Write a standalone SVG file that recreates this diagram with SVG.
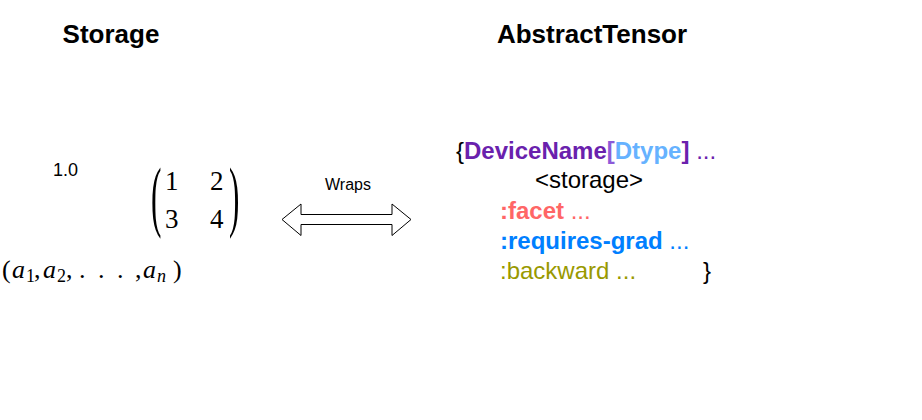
<svg xmlns="http://www.w3.org/2000/svg" width="922" height="420" viewBox="0 0 922 420">
<style>
.title{font-family:"Liberation Sans",Arial,sans-serif;font-weight:bold;font-size:26px;fill:#000}
.sans{font-family:"Liberation Sans",Arial,sans-serif;fill:#000}
.math{font-family:"Liberation Serif","Times New Roman",serif;fill:#000}
.it{font-style:italic}
.b{font-weight:bold}
.code{font-family:"Liberation Sans",Arial,sans-serif;font-size:24px}
</style>
<rect width="922" height="420" fill="#fff"/>
<g id="title-storage"><text class="title" x="111" y="43" text-anchor="middle">Storage</text></g>
<g id="title-abstracttensor"><text class="title" x="592" y="43" text-anchor="middle">AbstractTensor</text></g>
<g id="scalar"><text class="sans" x="53" y="176" font-size="18">1.0</text></g>
<g id="matrix">
<text class="math" font-size="78" transform="translate(151,222) scale(0.4,1)">(</text>
<text class="math" font-size="78" transform="translate(229,222) scale(0.4,1)">)</text>
<text class="math" font-size="27" x="165" y="190">1</text>
<text class="math" font-size="27" x="210" y="190">2</text>
<text class="math" font-size="27" x="165" y="228">3</text>
<text class="math" font-size="27" x="210" y="228">4</text>
</g>
<g id="vector">
<text class="math" font-size="26" y="278"><tspan x="2">(</tspan><tspan class="it" x="12">a</tspan><tspan font-size="18" x="26" y="282">1</tspan><tspan x="34" y="278">,</tspan><tspan class="it" x="43">a</tspan><tspan font-size="18" x="57" y="282">2</tspan><tspan x="66" y="278">,</tspan><tspan x="79">.</tspan><tspan x="98">.</tspan><tspan x="117">.</tspan><tspan x="135">,</tspan><tspan class="it" x="143">a</tspan><tspan class="it" font-size="18" x="157" y="282">n</tspan><tspan x="173" y="278">)</tspan></text>
</g>
<g id="connectors">
<g id="wraps">
<polygon points="282,219.5 301,204 301,214.5 392,214.5 392,204 411,219.5 392,235.5 392,224.5 301,224.5 301,235.5" fill="#fff" stroke="#000" stroke-width="1"/>
<text class="sans" x="348" y="190" font-size="16" text-anchor="middle">Wraps</text>
</g>
</g>
<g id="tensor-desc" class="code">
<text x="456" y="159"><tspan fill="#000">{</tspan><tspan class="b" fill="#6a21ad">DeviceName</tspan><tspan class="b" fill="#8d5ad8">[</tspan><tspan class="b" fill="#66b2ff">Dtype</tspan><tspan class="b" fill="#6a21ad">]</tspan><tspan fill="#6a21ad"> ...</tspan></text>
<text x="535" y="188" fill="#000">&lt;storage&gt;</text>
<text x="500" y="219" fill="#ff6666"><tspan class="b">:facet</tspan><tspan> ...</tspan></text>
<text x="500" y="249" fill="#007fff"><tspan class="b">:requires-grad</tspan><tspan> ...</tspan></text>
<text x="500" y="279" fill="#999900">:backward ...</text>
<text x="703" y="279" fill="#000">}</text>
</g>
</svg>
